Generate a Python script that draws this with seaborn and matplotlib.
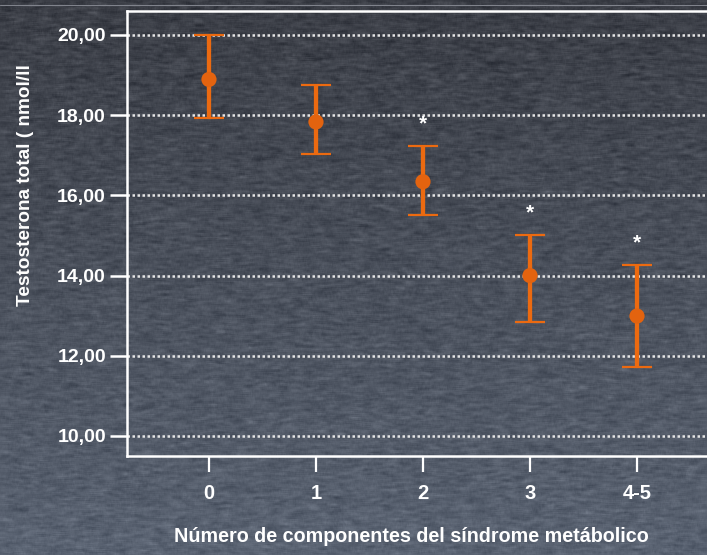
import numpy as np
import pandas as pd
import matplotlib
matplotlib.use("Agg")
import matplotlib.pyplot as plt
from matplotlib.lines import Line2D
import seaborn as sns

# Total testosterone by number of metabolic syndrome components
categories = ["0", "1", "2", "3", "4-5"]
means = [18.89, 17.83, 16.34, 14.00, 12.99]
lower = [17.92, 17.03, 15.51, 12.83, 11.73]
upper = [20.00, 18.75, 17.23, 15.01, 14.27]
significant = [False, False, True, True, True]
yticks = [10, 12, 14, 16, 18, 20]
ytick_labels = ["10,00", "12,00", "14,00", "16,00", "18,00", "20,00"]

df = pd.DataFrame({"grupo": categories, "media": means,
                   "inf": lower, "sup": upper, "sig": significant})

sns.set_style("ticks")
FONTS = ["Liberation Sans", "DejaVu Sans"]
plt.rcParams["font.family"] = FONTS
plt.rcParams["font.weight"] = "bold"

ORANGE = "#ec6a10"
W, H = 707, 555
fig = plt.figure(figsize=(W / 100, H / 100), dpi=100)

# Slate textured backdrop: vertical gradient with fine horizontal grain
rng = np.random.default_rng(7)
t = np.linspace(0, 1, H)[:, None]
top = np.array([0x3b, 0x3e, 0x46]) / 255
bot = np.array([0x5a, 0x63, 0x72]) / 255
base = top + (bot - top) * t[..., None]
grain = rng.normal(0, 1, (H, W))
kernel = np.ones(9) / 9
grain = np.apply_along_axis(lambda r: np.convolve(r, kernel, mode="same"), 1, grain)
vk = np.ones(3) / 3
grain = np.apply_along_axis(lambda c: np.convolve(c, vk, mode="same"), 0, grain)
grain = grain / grain.std() * 0.022
img = np.clip(np.broadcast_to(base, (H, W, 3)) + grain[..., None], 0, 1)
bg = fig.add_axes([0, 0, 1, 1])
bg.imshow(img, aspect="auto", extent=[0, 1, 0, 1], origin="upper")
bg.set_axis_off()
fig.add_artist(Line2D([0, 1], [1 - 5 / H] * 2, transform=fig.transFigure,
                      color="#80838c", lw=0.8))

ax = fig.add_axes([127 / W, 1 - 456 / H, 580 / W, 445.5 / H])
ax.set_facecolor("none")
ax.set_axisbelow(True)

yerr = [np.array(means) - np.array(lower), np.array(upper) - np.array(means)]
ax.errorbar(np.arange(len(categories)), means, yerr=yerr, fmt="none",
            ecolor=ORANGE, elinewidth=3.1, capsize=11, capthick=1.6, zorder=3)
sns.scatterplot(data=df, x="grupo", y="media", ax=ax, color="#e3630f", s=120,
                edgecolor="none", zorder=4, legend=False)

for i, row in df.iterrows():
    if row["sig"]:
        ax.annotate("*", (i, row["sup"]), xytext=(0, 16), textcoords="offset points",
                    ha="center", va="center", color="white", fontsize=15,
                    fontweight="bold")

ax.set_xlim(-0.766, 4.654)
ax.set_ylim(9.5, 20.61)
ax.set_yticks(yticks)
ax.set_yticklabels(ytick_labels)
ax.yaxis.grid(True, color="#e6e6e6", linestyle=(0, (1, 1)), linewidth=1.8)
ax.xaxis.grid(False)

for side in ["left", "top", "bottom"]:
    ax.spines[side].set_color("white")
    ax.spines[side].set_linewidth(1.8)
ax.spines["right"].set_visible(False)

ax.tick_params(axis="y", length=12.2, width=1.8, color="white", direction="out",
               pad=3, labelsize=14, labelcolor="white")
ax.tick_params(axis="x", length=11.5, width=1.6, color="white", direction="out",
               pad=9, labelsize=14.5, labelcolor="white")
for lab in ax.get_xticklabels() + ax.get_yticklabels():
    lab.set_fontweight("bold")

ax.set_xlabel("Número de componentes del síndrome metábolico", fontsize=14.2,
              fontweight="bold", color="white")
ax.xaxis.label.set_va("baseline")
ax.xaxis.set_label_coords((411.5 - 127) / 580, (456 - 542) / 445.5)

ax.set_ylabel("Testosterona total ( nmol/ll", fontsize=13.7, fontweight="bold",
              color="white")
ax.yaxis.label.set_va("center")
ax.yaxis.set_label_coords((25 - 127) / 580, (456 - 185) / 445.5)

fig.savefig("out.png", dpi=100)
